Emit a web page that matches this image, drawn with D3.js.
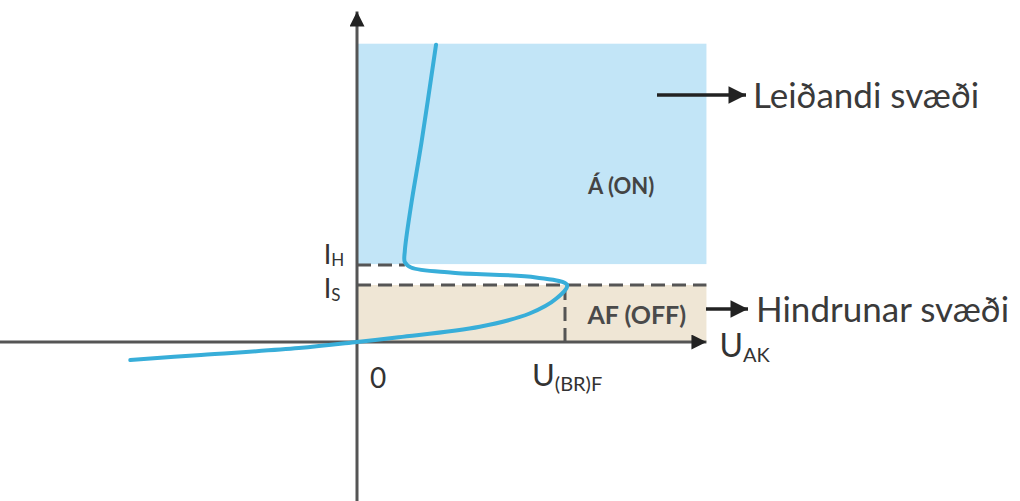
<!DOCTYPE html>
<html>
<head>
<meta charset="utf-8">
<script src="https://cdn.jsdelivr.net/npm/d3@7"></script>
<style>
  body { margin: 0; background: #fff; }
  text { font-family: Lato, "Open Sans", sans-serif; fill: #333; }
</style>
</head>
<body>
<div id="chart-area"></div>
<script>
// thyristor characteristic, U in V, I in mA (arbitrary units)
var curveU = [-10.9, -7.5, -2.8, 0, 2.0, 5.9, 8.3, 9.6, 10.1, 8.6, 4.6, 2.6, 2.3, 2.3, 2.6, 3.1, 3.8];
var curveI = [-0.95, -0.68, -0.32, 0, 0.25, 0.8, 1.5, 2.3, 3.0, 3.4, 3.65, 3.92, 4.2, 4.8, 7.2, 10.5, 15.65];

var holdCurrent = 4.05;
var latchCurrent = 3.0;
var breakoverU = 10;

var regionNames = ["Á (ON)", "AF (OFF)"];
var regionTop = [15.7, latchCurrent];
var regionBottom = [holdCurrent + 0.05, 0];
var regionColors = ["#c2e5f7", "#efe6d5"];
var regionNotes = ["Leiðandi svæði", "Hindrunar svæði"];

var uMax = 16.8;

var width = 1020;
var height = 501;

var svg = d3.select("#chart-area")
  .append("svg")
  .attr("width", width)
  .attr("height", height);

var x = d3.scaleLinear().domain([0, breakoverU]).range([357, 565]);
var y = d3.scaleLinear().domain([0, latchCurrent]).range([342, 285]);

// regions
svg.selectAll(".region")
  .data(regionNames).enter()
  .append("rect")
  .attr("class", "region")
  .attr("x", x(0))
  .attr("y", (d, i) => y(regionTop[i]))
  .attr("width", x(uMax) - x(0))
  .attr("height", (d, i) => y(regionBottom[i]) - y(regionTop[i]))
  .attr("fill", (d, i) => regionColors[i]);

svg.append("text")
  .attr("x", x(12.7))
  .attr("y", y(7.8))
  .attr("text-anchor", "middle")
  .attr("font-size", "22px")
  .attr("font-weight", "bold")
  .style("fill", "#444")
  .text(regionNames[0]);

svg.append("text")
  .attr("x", x(13.45))
  .attr("y", y(0.95))
  .attr("text-anchor", "middle")
  .attr("font-size", "25px")
  .attr("font-weight", "bold")
  .style("fill", "#4a4a4a")
  .text(regionNames[1]);

// markers
var defs = svg.append("defs");
defs.append("marker")
  .attr("id", "head")
  .attr("viewBox", "0 0 10 10")
  .attr("refX", 10).attr("refY", 5)
  .attr("markerWidth", 7).attr("markerHeight", 5)
  .attr("markerUnits", "strokeWidth")
  .attr("orient", "auto")
  .append("path")
  .attr("d", "M0,0 L10,5 L0,10 Z")
  .attr("fill", "#222");

// axes
svg.append("line")
  .attr("x1", 0).attr("y1", y(0))
  .attr("x2", x(uMax)).attr("y2", y(0))
  .attr("stroke", "#555").attr("stroke-width", 3)
  .attr("marker-end", "url(#head)");

svg.append("line")
  .attr("x1", x(0)).attr("y1", height)
  .attr("x2", x(0)).attr("y2", y(17.4))
  .attr("stroke", "#555").attr("stroke-width", 3)
  .attr("marker-end", "url(#head)");

// dashed levels
svg.append("line")
  .attr("x1", x(0)).attr("x2", x(2.3))
  .attr("y1", y(holdCurrent)).attr("y2", y(holdCurrent))
  .attr("stroke", "#555").attr("stroke-width", 3)
  .attr("stroke-dasharray", "14,7");

svg.append("line")
  .attr("x1", x(0)).attr("x2", x(uMax))
  .attr("y1", y(latchCurrent)).attr("y2", y(latchCurrent))
  .attr("stroke", "#555").attr("stroke-width", 3)
  .attr("stroke-dasharray", "14,7");

svg.append("line")
  .attr("x1", x(breakoverU)).attr("x2", x(breakoverU))
  .attr("y1", y(0)).attr("y2", y(latchCurrent - 0.3))
  .attr("stroke", "#555").attr("stroke-width", 3)
  .attr("stroke-dasharray", "14,7");

// curve
var pts = curveU.map((u, i) => [u, curveI[i]]);
var line = d3.line()
  .x(d => x(d[0]))
  .y(d => y(d[1]))
  .curve(d3.curveCatmullRom.alpha(0.5));

svg.append("path")
  .datum(pts)
  .attr("d", line)
  .attr("fill", "none")
  .attr("stroke", "#38aed9")
  .attr("stroke-width", 4)
  .attr("stroke-linecap", "round")
  .attr("stroke-linejoin", "round");

// labels with subscripts
function subLabel(px, py, main, sub, size, subSize, shift) {
  var t = svg.append("text")
    .attr("x", px).attr("y", py)
    .attr("font-size", size + "px");
  t.append("tspan").text(main);
  t.append("tspan")
    .attr("font-size", subSize + "px")
    .attr("dy", shift)
    .text(sub);
  return t;
}

subLabel(x(-1.6), y(holdCurrent) - 1, "I", "H", 27, 17, 2);
subLabel(x(-1.6), y(latchCurrent) + 13, "I", "S", 27, 17, 3);
svg.append("text")
  .attr("x", x(0) + 13).attr("y", 388)
  .attr("font-size", "28px")
  .text("0");
subLabel(x(breakoverU) - 33, 386, "U", "(BR)F", 31, 20, 5);
subLabel(x(uMax) + 13, 357, "U", "AK", 32, 20, 5);

// region notes with arrows
svg.append("line")
  .attr("x1", 657).attr("y1", 95)
  .attr("x2", 746).attr("y2", 95)
  .attr("stroke", "#222").attr("stroke-width", 3.5)
  .attr("marker-end", "url(#head)");

svg.append("line")
  .attr("x1", 706).attr("y1", 309)
  .attr("x2", 748).attr("y2", 309)
  .attr("stroke", "#222").attr("stroke-width", 3.5)
  .attr("marker-end", "url(#head)");

svg.append("text")
  .attr("x", 753).attr("y", 108)
  .attr("font-size", "35px")
  .style("fill", "#3a3a3a")
  .text(regionNotes[0]);

svg.append("text")
  .attr("x", 756).attr("y", 322)
  .attr("font-size", "35px")
  .style("fill", "#3a3a3a")
  .text(regionNotes[1]);
</script>
</body>
</html>
